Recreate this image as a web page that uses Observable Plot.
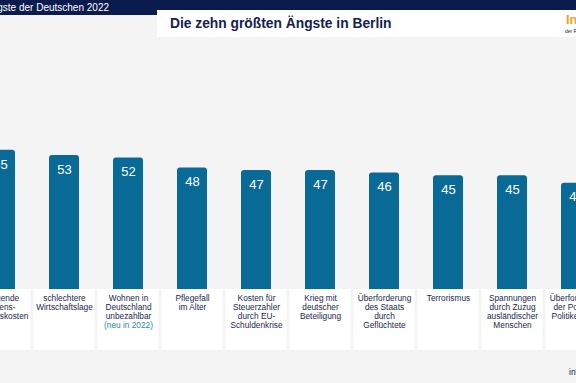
<!DOCTYPE html>
<html>
<head>
<meta charset="utf-8">
<script src="https://cdn.jsdelivr.net/npm/d3@7"></script>
<script src="https://cdn.jsdelivr.net/npm/@observablehq/plot@0.6"></script>
<style>
  html, body { margin: 0; padding: 0; background: #f4f4f4; }
  #wrap { position: relative; width: 576px; height: 383px; overflow: hidden; background: #f4f4f4; font-family: "Liberation Sans", Arial, sans-serif; }
  #band { position: absolute; left: 0; top: 0; width: 576px; height: 15px; background: #0c1b4d; }
  #bandText { position: absolute; right: 467px; top: 1px; white-space: nowrap; color: #fff; font-size: 10px; line-height: 13px; }
  #titleBox { position: absolute; left: 157px; top: 10px; width: 419px; height: 27px; background: #fff; }
  #title { position: absolute; left: 13px; top: 5px; white-space: nowrap; color: #15214f; font-size: 13.8px; font-weight: bold; line-height: 18px; }
  #logo { position: absolute; left: 409px; top: 3px; color: #f3a21f; font-size: 13px; font-weight: bold; white-space: nowrap; line-height: 14px; }
  #logoSub { position: absolute; left: 408px; top: 18px; color: #15214f; font-size: 5px; line-height: 6px; white-space: nowrap; }
  #chart { position: absolute; left: 0; top: 0; }
  #src { position: absolute; left: 569px; top: 367px; color: #15214f; font-size: 8.5px; white-space: nowrap; }
</style>
</head>
<body>
<div id="wrap">
  <div id="chart"></div>
  <div id="band"><div id="bandText">Die größten Ängste der Deutschen 2022</div></div>
  <div id="titleBox">
    <div id="title">Die zehn größten Ängste in Berlin</div>
    <div id="logo">Infografik</div>
    <div id="logoSub">der R+V Versicherung</div>
  </div>
  <div id="src">infografik</div>
</div>
<script>
const categories = [
  "Lebenshaltungskosten", "Wirtschaftslage", "Wohnen", "Pflegefall", "EU-Schuldenkrise",
  "Krieg", "Geflüchtete", "Terrorismus", "Spannungen", "Politiker"
];
const values = [55, 53, 52, 48, 47, 47, 46, 45, 45, 42];
const labels = [
  "Steigende\nLebens-\nhaltungskosten",
  "schlechtere\nWirtschaftslage",
  "Wohnen in\nDeutschland\nunbezahlbar",
  "Pflegefall\nim Alter",
  "Kosten für\nSteuerzahler\ndurch EU-\nSchuldenkrise",
  "Krieg mit\ndeutscher\nBeteiligung",
  "Überforderung\ndes Staats\ndurch\nGeflüchtete",
  "Terrorismus",
  "Spannungen\ndurch Zuzug\nausländischer\nMenschen",
  "Überforderung\nder Politiker/\nPolitikerinnen"
];
const notes = ["", "", "(neu in 2022)", "", "", "", "", "", "", ""];

const data = categories.map((c, i) => ({cat: c, value: values[i], label: labels[i], note: notes[i]}));

const chart = Plot.plot({
  width: 576,
  height: 383,
  margin: 0,
  x: {type: "band", domain: categories, range: [-32, 608], padding: 0, axis: null},
  y: {domain: [0, 100], range: [289, 36], axis: null},
  style: {background: "transparent", fontFamily: "'Liberation Sans', Arial, sans-serif"},
  marks: [
    Plot.barY(data, {x: "cat", y1: -3, y2: "value", fill: "#0a6a97", insetLeft: 17, insetRight: 17, rx: 3}),
    Plot.barY(data, {x: "cat", y1: -24.1, y2: 0, fill: "#ffffff", insetLeft: 1.5, insetRight: 1.5}),
    Plot.text(data, {x: "cat", y: "value", text: d => String(d.value), dy: 14, fill: "#ffffff", fontSize: 13}),
    Plot.text(data, {x: "cat", y: 0, text: "label", lineAnchor: "top", dy: 5.5, fontSize: 8.3, lineHeight: 1.08, fill: "#1b2850"}),
    Plot.text(data.filter(d => d.note), {x: "cat", y: 0, text: "note", lineAnchor: "top", dy: 32.5, fontSize: 8.3, fill: "#2f86b4"})
  ]
});
document.getElementById("chart").appendChild(chart);
</script>
</body>
</html>
